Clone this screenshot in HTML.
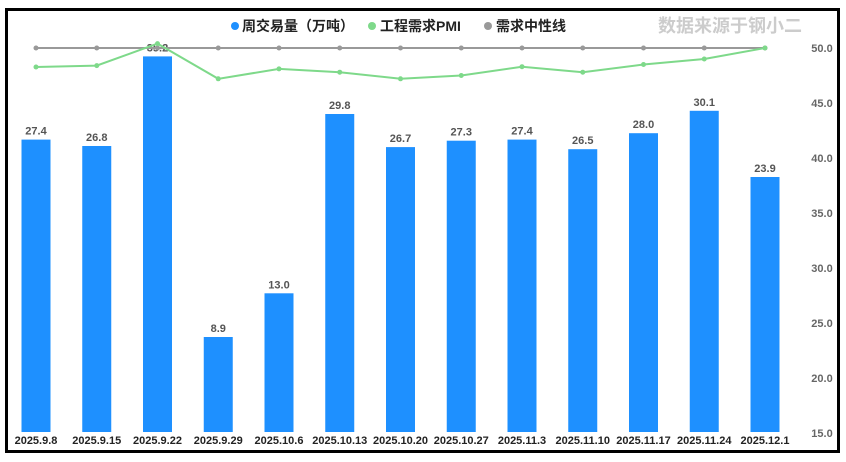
<!DOCTYPE html><html><head><meta charset="utf-8"><style>body{margin:0;background:#fff;}svg text{font-family:"Liberation Sans","Noto Sans CJK SC",sans-serif;}</style></head><body>
<svg width="846" height="457" xmlns="http://www.w3.org/2000/svg">
<rect x="6.5" y="9.5" width="832" height="442" fill="#fff" stroke="#000" stroke-width="3"/>
<g font-size="11" font-weight="bold" fill="#666" text-anchor="middle">
<text x="822" y="52">50.0</text><text x="822" y="107">45.0</text><text x="822" y="162">40.0</text><text x="822" y="217">35.0</text><text x="822" y="272">30.0</text><text x="822" y="327">25.0</text><text x="822" y="382">20.0</text><text x="822" y="437">15.0</text>
</g>
<g fill="#1e90ff">
<rect x="21.5" y="139.6" width="29" height="292.4"/>
<rect x="82.25" y="146" width="29" height="286"/>
<rect x="143" y="56.4" width="29" height="375.6"/>
<rect x="203.75" y="337" width="29" height="95"/>
<rect x="264.5" y="293.3" width="29" height="138.7"/>
<rect x="325.25" y="114" width="29" height="318"/>
<rect x="386" y="147.1" width="29" height="284.9"/>
<rect x="446.75" y="140.7" width="29" height="291.3"/>
<rect x="507.5" y="139.6" width="29" height="292.4"/>
<rect x="568.25" y="149.2" width="29" height="282.8"/>
<rect x="629" y="133.2" width="29" height="298.8"/>
<rect x="689.75" y="110.8" width="29" height="321.2"/>
<rect x="750.5" y="177" width="29" height="255"/>
</g>
<g font-size="11" font-weight="bold" fill="#555" text-anchor="middle">
<text x="36" y="134.6">27.4</text><text x="96.75" y="141">26.8</text><text x="157.5" y="51.4">35.2</text><text x="218.25" y="332">8.9</text><text x="279" y="288.3">13.0</text><text x="339.75" y="109">29.8</text><text x="400.5" y="142.1">26.7</text><text x="461.25" y="135.7">27.3</text><text x="522" y="134.6">27.4</text><text x="582.75" y="144.2">26.5</text><text x="643.5" y="128.2">28.0</text><text x="704.25" y="105.8">30.1</text><text x="765" y="172">23.9</text>
</g>
<g font-size="11" font-weight="bold" fill="#222" text-anchor="middle">
<text x="36" y="444">2025.9.8</text><text x="96.75" y="444">2025.9.15</text><text x="157.5" y="444">2025.9.22</text><text x="218.25" y="444">2025.9.29</text><text x="279" y="444">2025.10.6</text><text x="339.75" y="444">2025.10.13</text><text x="400.5" y="444">2025.10.20</text><text x="461.25" y="444">2025.10.27</text><text x="522" y="444">2025.11.3</text><text x="582.75" y="444">2025.11.10</text><text x="643.5" y="444">2025.11.17</text><text x="704.25" y="444">2025.11.24</text><text x="765" y="444">2025.12.1</text>
</g>
<line x1="36" y1="48" x2="765" y2="48" stroke="#999" stroke-width="2"/>
<g fill="#999">
<circle cx="36" cy="48" r="2.5"/><circle cx="96.75" cy="48" r="2.5"/><circle cx="157.5" cy="48" r="2.5"/><circle cx="218.25" cy="48" r="2.5"/><circle cx="279" cy="48" r="2.5"/><circle cx="339.75" cy="48" r="2.5"/><circle cx="400.5" cy="48" r="2.5"/><circle cx="461.25" cy="48" r="2.5"/><circle cx="522" cy="48" r="2.5"/><circle cx="582.75" cy="48" r="2.5"/><circle cx="643.5" cy="48" r="2.5"/><circle cx="704.25" cy="48" r="2.5"/><circle cx="765" cy="48" r="2.5"/>
</g>
<polyline fill="none" stroke="#7ed98a" stroke-width="2" points="36,67 96.75,65.6 157.5,43.6 218.25,78.8 279,68.9 339.75,72.2 400.5,78.8 461.25,75.5 522,66.7 582.75,72.2 643.5,64.5 704.25,59 765,48"/>
<g fill="#7ed98a">
<circle cx="36" cy="67" r="2.5"/><circle cx="96.75" cy="65.6" r="2.5"/><circle cx="157.5" cy="43.6" r="2.5"/><circle cx="218.25" cy="78.8" r="2.5"/><circle cx="279" cy="68.9" r="2.5"/><circle cx="339.75" cy="72.2" r="2.5"/><circle cx="400.5" cy="78.8" r="2.5"/><circle cx="461.25" cy="75.5" r="2.5"/><circle cx="522" cy="66.7" r="2.5"/><circle cx="582.75" cy="72.2" r="2.5"/><circle cx="643.5" cy="64.5" r="2.5"/><circle cx="704.25" cy="59" r="2.5"/><circle cx="765" cy="48" r="2.5"/>
</g>
<text x="730" y="32" font-size="18" font-weight="bold" fill="#ccc" text-anchor="middle">数据来源于钢小二</text>
<g font-size="14" font-weight="bold" fill="#222">
<circle cx="235" cy="26" r="4" fill="#1e90ff"/><text x="242" y="31">周交易量（万吨）</text>
<circle cx="372" cy="26" r="4" fill="#7ed98a"/><text x="380" y="31">工程需求PMI</text>
<circle cx="488" cy="26" r="4" fill="#999"/><text x="496" y="31">需求中性线</text>
</g>
</svg></body></html>
